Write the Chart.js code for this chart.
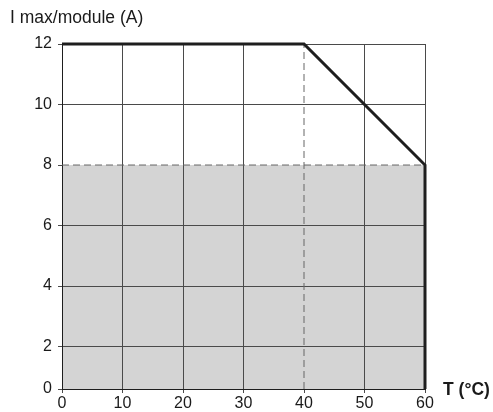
<!DOCTYPE html>
<html>
<head>
<meta charset="utf-8">
<script src="https://cdn.jsdelivr.net/npm/chart.js@4.4.1/dist/chart.umd.min.js"></script>
<style>
  html, body { margin: 0; padding: 0; background: #ffffff; }
  #wrap { width: 493px; height: 412px; position: relative; }
</style>
</head>
<body>
<div id="wrap"><canvas id="c"></canvas></div>
<script>
// ---- data ----
const tempC = [0, 40, 60, 60];          // derating curve, x (°C)
const currentA = [12, 12, 8, 0];        // derating curve, y (A)
const safeTemps = [0, 60];              // shaded safe zone extent
const safeCurrent = [8, 8];             // shaded safe zone level (A)
const kneeTemps = [40, 40];             // dashed vertical at knee
const kneeCurrent = [0, 12];
const xTicks = [0, 10, 20, 30, 40, 50, 60];
const yTicks = [0, 2, 4, 6, 8, 10, 12];
const yTitle = 'I max/module (A)';
const xTitle = 'T (°C)';

const toPts = (xs, ys) => xs.map((x, i) => ({ x: x, y: ys[i] }));

// The original drawing has a shorter bottom row (0–2 A); reproduce it with a
// piecewise linear scale built on Chart.js' LinearScale.
const Y_BREAK = 2;
const BOTTOM_ROW_SHARE = 0.123;
class PiecewiseLinearScale extends Chart.LinearScale {
  getPixelForValue(value) {
    if (value === null || value === undefined || isNaN(value)) return NaN;
    const min = this.min, max = this.max;
    let dec;
    if (value <= Y_BREAK) dec = (value - min) / (Y_BREAK - min) * BOTTOM_ROW_SHARE;
    else dec = BOTTOM_ROW_SHARE + (value - Y_BREAK) / (max - Y_BREAK) * (1 - BOTTOM_ROW_SHARE);
    return this.getPixelForDecimal(dec);
  }
  getValueForPixel(pixel) {
    const dec = this.getDecimalForPixel(pixel);
    const min = this.min, max = this.max;
    if (dec <= BOTTOM_ROW_SHARE) return min + dec / BOTTOM_ROW_SHARE * (Y_BREAK - min);
    return Y_BREAK + (dec - BOTTOM_ROW_SHARE) / (1 - BOTTOM_ROW_SHARE) * (max - Y_BREAK);
  }
}
PiecewiseLinearScale.id = 'piecewiseLinear';
PiecewiseLinearScale.defaults = Chart.LinearScale.defaults;
Chart.register(PiecewiseLinearScale);

const FONT = '"Liberation Sans", Arial, sans-serif';
const GRID = '#4a4a4a';
const DASH = '#666666';

const xTitlePlugin = {
  id: 'xTitle',
  afterDraw(chart) {
    const ctx = chart.ctx;
    ctx.save();
    ctx.font = 'bold 17.5px ' + FONT;
    ctx.fillStyle = '#1a1a1a';
    ctx.textAlign = 'left';
    ctx.textBaseline = 'middle';
    ctx.fillText(xTitle, chart.chartArea.right + 18, chart.chartArea.bottom + 1);
    ctx.restore();
  }
};

new Chart(document.getElementById('c'), {
  type: 'scatter',
  data: {
    datasets: [
      {
        data: toPts(safeTemps, safeCurrent),
        showLine: true,
        fill: 'origin',
        backgroundColor: '#d4d4d4',
        borderColor: DASH,
        borderWidth: 1,
        borderDash: [7, 4],
        pointRadius: 0,
        order: 3
      },
      {
        data: toPts(kneeTemps, kneeCurrent),
        showLine: true,
        fill: false,
        borderColor: DASH,
        borderWidth: 1,
        borderDash: [7, 4],
        pointRadius: 0,
        order: 2
      },
      {
        data: toPts(tempC, currentA),
        showLine: true,
        fill: false,
        borderColor: '#1e1e1e',
        borderWidth: 3,
        borderJoinStyle: 'miter',
        borderCapStyle: 'butt',
        pointRadius: 0,
        clip: 4,
        order: 1
      }
    ]
  },
  plugins: [xTitlePlugin],
  options: {
    responsive: true,
    maintainAspectRatio: false,
    animation: false,
    events: [],
    layout: { padding: { left: 10, right: 68, top: 0, bottom: 0 } },
    plugins: {
      legend: { display: false },
      tooltip: { enabled: false },
      filler: { drawTime: 'beforeDraw' },
      title: {
        display: true,
        text: yTitle,
        align: 'start',
        color: '#1a1a1a',
        font: { family: FONT, size: 17.5, weight: 'normal', lineHeight: 1.2 },
        padding: { top: 8, bottom: 15 }
      }
    },
    scales: {
      x: {
        type: 'linear',
        min: 0, max: 60,
        afterBuildTicks: s => { s.ticks = xTicks.map(v => ({ value: v })); },
        afterFit: s => { s.height = 23; },
        ticks: { color: '#1a1a1a', font: { family: FONT, size: 16 }, padding: 1, maxRotation: 0, autoSkip: false },
        grid: {
          color: c => (c.tick && c.tick.value === 40) ? 'rgba(0,0,0,0)' : GRID,
          tickColor: GRID,
          tickLength: 4,
          lineWidth: 1
        },
        border: { display: true, color: '#1e1e1e', width: 1 }
      },
      y: {
        type: 'piecewiseLinear',
        min: 0, max: 12,
        afterBuildTicks: s => { s.ticks = yTicks.map(v => ({ value: v })); },
        afterFit: s => { s.width = 52; },
        ticks: { color: '#1a1a1a', font: { family: FONT, size: 16 }, padding: 6, autoSkip: false },
        grid: {
          color: c => (c.tick && c.tick.value === 8) ? 'rgba(0,0,0,0)' : GRID,
          tickColor: GRID,
          tickLength: 4,
          lineWidth: 1
        },
        border: { display: true, color: '#1e1e1e', width: 1 }
      }
    }
  }
});
</script>
</body>
</html>
